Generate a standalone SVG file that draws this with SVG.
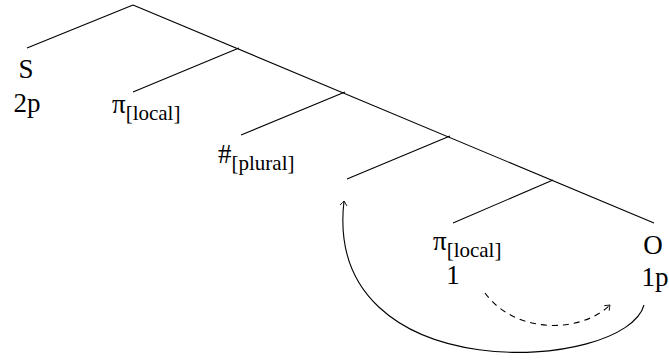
<svg xmlns="http://www.w3.org/2000/svg" width="669" height="360" viewBox="0 0 669 360">
<style>
.e{stroke:#000;stroke-width:1.1;fill:none}
.t{font-family:'Liberation Serif','Times New Roman',serif;font-size:27px;fill:#000}
.m{text-anchor:middle}
.s{font-size:21px}
</style>
<defs>
<marker id="ah" markerWidth="10" markerHeight="10" refX="0" refY="0" viewBox="-6 -5 8 10" orient="auto" markerUnits="userSpaceOnUse">
<path d="M-4.5,-3.5 Q-1.5,-1 0,0 Q-1.5,1 -4.5,3.5" stroke="#000" stroke-width="0.9" fill="none"/>
</marker>
</defs>
<rect width="669" height="360" fill="#fff"/>
<g id="edges">
<path class="e" d="M133,5 L27,48"/>
<path class="e" d="M133,5 L654,223"/>
<path class="e" d="M239,48 L133,92"/>
<path class="e" d="M345,92 L241,135"/>
<path class="e" d="M450,136 L347,179"/>
<path class="e" d="M553,180 L453,223"/>
</g>
<g id="node-S"><text class="t m" x="26" y="78">S</text><text class="t m" x="27" y="112">2p</text></g>
<g id="node-pi1"><text class="t" x="112" y="113">π<tspan class="s" dy="7">[local]</tspan></text></g>
<g id="node-num"><text class="t" x="218" y="163">#<tspan class="s" dy="7">[plural]</tspan></text></g>
<g id="node-pi2"><text class="t" x="433" y="250">π<tspan class="s" dy="7">[local]</tspan></text><text class="t m" x="453" y="284">1</text></g>
<g id="node-O"><text class="t m" x="653" y="254">O</text><text class="t m" x="655" y="286">1p</text></g>
<g id="arrows">
<path class="e" d="M644,305 C626,372 322,392 344,201" marker-end="url(#ah)"/>
<path class="e" d="M485,293 C515,334 580,334 610,305" stroke-dasharray="6 5" marker-end="url(#ah)"/>
</g>
</svg>
